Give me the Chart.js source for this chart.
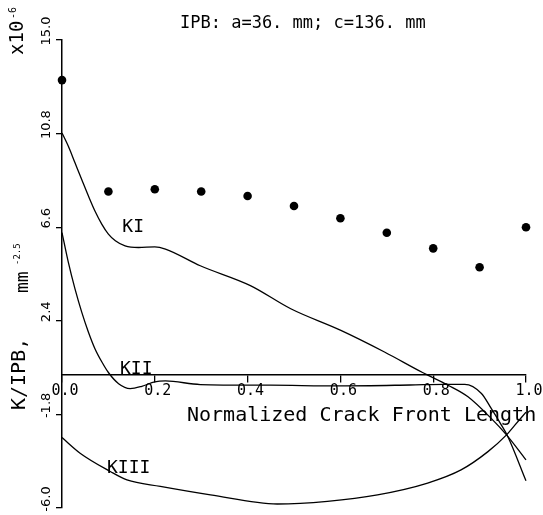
<!DOCTYPE html>
<html>
<head>
<meta charset="utf-8">
<script src="https://cdn.jsdelivr.net/npm/chart.js@4.4.1/dist/chart.umd.min.js"></script>
<style>
  html, body { margin: 0; padding: 0; background: #fff; }
  #wrap { width: 543px; height: 515px; }
</style>
</head>
<body>
<div id="wrap"><canvas id="c1"></canvas></div>
<script>
// measured points along the crack front
var dotX = [0.0, 0.1, 0.2, 0.3, 0.4, 0.5, 0.6, 0.7, 0.8, 0.9, 1.0];
var dotY = [13.2, 8.2, 8.3, 8.2, 8.0, 7.55, 7.0, 6.35, 5.65, 4.8, 6.6];

// mode I
var kIx = [0, 0.0137, 0.028, 0.0425, 0.057, 0.071, 0.086, 0.1, 0.115, 0.136, 0.165, 0.2, 0.223, 0.298, 0.406, 0.493, 0.601, 0.695, 0.777, 0.832, 0.875, 0.925, 0.958, 1.0];
var kI  = [10.83, 10.23, 9.49, 8.74, 8.0, 7.33, 6.73, 6.29, 5.99, 5.76, 5.69, 5.72, 5.62, 4.87, 3.98, 2.94, 1.97, 1.0, 0.08, -0.49, -1.01, -1.98, -2.72, -3.84];

// mode II
var kIIx = [0, 0.0137, 0.028, 0.0425, 0.057, 0.071, 0.086, 0.1, 0.122, 0.147, 0.172, 0.2, 0.223, 0.298, 0.45, 0.6, 0.75, 0.824, 0.868, 0.904, 0.925, 0.947, 0.961, 1.0];
var kII  = [6.36, 5.02, 3.83, 2.79, 1.89, 1.15, 0.55, 0.08, -0.42, -0.64, -0.54, -0.34, -0.30, -0.46, -0.49, -0.52, -0.48, -0.45, -0.45, -0.86, -1.53, -2.28, -2.8, -4.78];

// mode III
var kIIIx = [0, 0.039, 0.104, 0.14, 0.212, 0.32, 0.464, 0.572, 0.68, 0.788, 0.86, 0.918, 0.958, 0.976, 1.0];
var kIII  = [-2.84, -3.54, -4.36, -4.74, -5.03, -5.41, -5.82, -5.70, -5.41, -4.88, -4.29, -3.47, -2.72, -2.28, -1.7];

var xTicks = [0.0, 0.2, 0.4, 0.6, 0.8, 1.0];
var yTicks = [-6.0, -1.8, 2.4, 6.6, 10.8, 15.0];

var titleText = 'IPB: a=36. mm; c=136. mm';
var xTitle = 'Normalized Crack Front Length';
var curveNames = ['KI', 'KII', 'KIII'];
var curveAt = [[0.13, 6.37], [0.125, 0.03], [0.097, -4.44]];

function pts(xs, ys) {
    return xs.map(function (x, i) { return { x: x, y: ys[i] }; });
}

function curve(name, xs, ys) {
    return {
        label: name,
        data: pts(xs, ys),
        showLine: true,
        borderColor: '#000',
        borderWidth: 1.3,
        pointRadius: 0,
        cubicInterpolationMode: 'monotone',
        fill: false,
        clip: false
    };
}

var MONO = '"DejaVu Sans Mono", monospace';

// rotated text reading bottom to top, baseline at screen x
function upText(ctx, text, x, y, font) {
    ctx.save();
    ctx.translate(x, y);
    ctx.rotate(-Math.PI / 2);
    ctx.font = font;
    ctx.textAlign = 'left';
    ctx.textBaseline = 'alphabetic';
    ctx.fillText(text, 0, 0);
    ctx.restore();
}

var plotText = {
    id: 'plotText',
    afterDraw: function (chart) {
        var ctx = chart.ctx;
        var xs = chart.scales.x, ys = chart.scales.y;
        ctx.save();
        ctx.fillStyle = '#000';
        ctx.textBaseline = 'alphabetic';
        ctx.textAlign = 'left';

        ctx.font = '17px ' + MONO;
        ctx.fillText(titleText, 180, 28);

        ctx.font = '20px ' + MONO;
        ctx.fillText(xTitle, 187, 421);

        ctx.font = '18px ' + MONO;
        curveNames.forEach(function (n, i) {
            ctx.fillText(n, xs.getPixelForValue(curveAt[i][0]), ys.getPixelForValue(curveAt[i][1]));
        });

        // y axis title and multiplier
        upText(ctx, 'K/IPB,', 25, 410, '20px ' + MONO);
        upText(ctx, 'mm', 28, 293, '18px ' + MONO);
        upText(ctx, '-2.5', 20, 265, '9px ' + MONO);
        upText(ctx, 'x10', 23, 55, '19px ' + MONO);
        upText(ctx, '-6', 16, 19, '10px ' + MONO);
        ctx.restore();
    }
};

var ctx = document.getElementById('c1');
var chart = new Chart(ctx, {
    type: 'scatter',
    data: {
        datasets: [
            {
                label: 'measured',
                data: pts(dotX, dotY),
                backgroundColor: '#000',
                borderColor: '#000',
                pointRadius: 4.3,
                pointBorderWidth: 0,
                clip: false
            },
            curve('KI', kIx, kI),
            curve('KII', kIIx, kII),
            curve('KIII', kIIIx, kIII)
        ]
    },
    options: {
        responsive: true,
        maintainAspectRatio: false,
        animation: false,
        layout: { padding: { top: 40, right: 17, bottom: 7, left: 0 } },
        plugins: {
            legend: { display: false },
            tooltip: { enabled: false }
        },
        scales: {
            x: {
                type: 'linear',
                min: 0,
                max: 1,
                position: { y: 0 },
                afterBuildTicks: function (s) {
                    s.ticks = xTicks.map(function (v) { return { value: v }; });
                },
                grid: { drawOnChartArea: false, tickLength: 7, color: '#000', lineWidth: 1.3 },
                border: { color: '#000', width: 1.5 },
                ticks: {
                    autoSkip: false,
                    maxRotation: 0,
                    padding: 1,
                    labelOffset: 3,
                    color: '#000',
                    font: { family: MONO, size: 15 },
                    callback: function (v) { return Number(v).toFixed(1); }
                }
            },
            y: {
                type: 'linear',
                min: -6,
                max: 15,
                afterFit: function (s) { s.width = 62; },
                afterBuildTicks: function (s) {
                    s.ticks = yTicks.map(function (v) { return { value: v }; });
                },
                grid: { drawOnChartArea: false, tickLength: 6, color: '#000', lineWidth: 1.3 },
                border: { color: '#000', width: 1.5 },
                ticks: {
                    autoSkip: false,
                    minRotation: 90,
                    maxRotation: 90,
                    crossAlign: 'center',
                    padding: -5,
                    labelOffset: -9,
                    color: '#000',
                    font: { family: 'DejaVu Sans', size: 13 },
                    callback: function (v) { return Number(v).toFixed(1); }
                }
            }
        }
    },
    plugins: [plotText]
});
</script>
</body>
</html>
